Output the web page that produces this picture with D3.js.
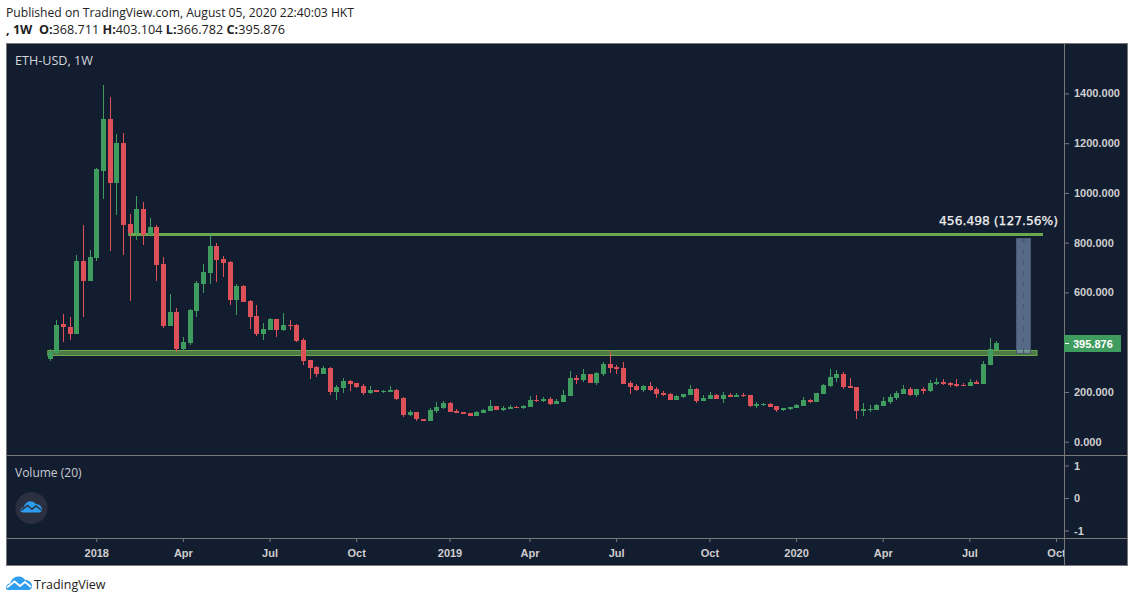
<!DOCTYPE html>
<html>
<head>
<meta charset="utf-8">
<script src="https://cdn.jsdelivr.net/npm/d3@7"></script>
<style>
  html, body { margin: 0; padding: 0; background: #fff; overflow: hidden; }
  svg { display: block; }
  text { font-family: "Liberation Sans", Arial, sans-serif; }
</style>
</head>
<body>
<div id="vis-container"></div>
<script>
const width = 1134,
    height = 602;

// weekly candles, one entry per week from the first date
const firstWeek = "2017-11-13";
const opens = [333,355,473,461,433,726,646,738,1088,1297,1040,1201,875,839,935,831,863,714,465,521,373,397,525,634,678,787,734,722,570,626,566,505,433,449,493,449,469,469,409,328,300,272,296,200,216,244,236,224,196,208,200,200,208,176,107,119,91,83,123,135,156,123,119,115,103,115,123,144,127,131,140,135,140,168,164,172,152,160,184,256,248,272,236,272,312,300,296,236,224,208,224,212,196,192,168,180,188,212,164,172,188,172,188,180,188,188,144,148,152,144,127,131,135,144,168,160,192,224,256,272,224,220,123,127,127,144,160,176,192,212,188,212,204,232,240,236,232,228,224,240,232,308,368.711];
const highs = [371,489,513,501,751,871,770,1100,1434,1386,1237,1241,915,988,964,899,871,742,594,537,421,533,646,714,835,799,746,726,634,630,570,550,477,497,493,517,489,473,417,328,304,304,300,228,256,248,236,232,224,208,208,224,212,180,127,119,91,135,160,164,160,131,119,115,123,131,168,144,144,148,144,148,184,188,180,180,172,208,284,268,292,272,280,320,365,308,320,244,232,228,240,220,204,196,188,192,228,216,188,200,192,200,196,196,196,188,160,156,156,144,135,140,152,180,172,196,232,292,288,280,256,220,156,148,152,180,192,204,228,220,212,220,248,256,252,240,252,236,252,248,324,417,403.104];
const lows = [326,353,401,409,433,501,646,726,976,767,911,751,566,811,791,831,646,457,465,361,365,389,501,598,634,642,662,550,509,562,453,425,409,449,421,445,449,401,308,252,260,272,188,168,196,204,216,188,192,200,196,200,168,99,103,83,83,83,115,131,119,115,111,103,103,115,123,127,123,131,135,131,140,160,160,148,152,160,184,232,240,236,228,264,276,272,232,192,204,200,204,176,184,168,168,176,188,156,164,172,172,156,180,180,180,140,135,144,140,119,123,127,135,144,156,160,192,220,240,212,216,91,103,119,127,144,152,168,192,184,180,192,200,228,228,220,220,224,224,232,232,308,366.782];
const closes = [361,469,461,433,726,646,742,1096,1297,1040,1201,871,839,935,831,863,710,465,521,373,401,529,638,682,787,730,718,570,626,562,501,433,453,493,449,469,465,405,324,296,272,296,200,220,244,232,220,196,208,200,204,208,172,107,119,91,83,127,140,156,119,115,111,103,119,127,144,127,135,140,135,144,168,164,172,152,164,188,256,248,272,236,276,312,296,292,232,220,208,224,208,192,188,168,184,192,212,164,176,188,172,188,180,188,184,144,152,152,140,127,135,140,148,168,160,196,228,260,272,220,216,123,131,131,148,164,180,196,212,188,212,204,236,240,232,228,224,224,240,232,312,373,395.876];

// drawn levels and the measure tool
const resistance = 835;
const supportTop = 368;
const supportBottom = 349;
const measureTop = 819;
const measureBottom = 358;
const measureLabel = "456.498 (127.56%)";

const priceTicks = [0,200,400,600,800,1000,1200,1400];
const volumeTicks = [-1,0,1];
const lastLabel = "395.876";
const timeTicks = [
  ["2018-01-01","2018"],["2018-04-02","Apr"],["2018-07-02","Jul"],["2018-10-01","Oct"],
  ["2019-01-07","2019"],["2019-04-01","Apr"],["2019-07-01","Jul"],["2019-10-07","Oct"],
  ["2020-01-06","2020"],["2020-04-06","Apr"],["2020-07-06","Jul"],["2020-10-05","Oct"]
];

const bg = "#131d30",
    frame = "#787878",
    axisText = "#cfcfcf",
    up = "#3f9c5f",
    down = "#de5159",
    lineGreen = "#6aa84f";

const panelLeft = 6, panelRight = 1127, panelTop = 43, panelBottom = 565,
    axisX = 1064, paneY = 455, timeY = 538;

const start = d3.isoParse(firstWeek + "T00:00:00Z");

const x = d3.scaleUtc()
    .domain([start, d3.utcWeek.offset(start, 151)])
    .range([50.3, 1056.7]);

const y = d3.scaleLinear()
    .domain([0, 1400])
    .range([441.7, 93.4]);

const yVol = d3.scaleLinear()
    .domain([-1, 1])
    .range([530.5, 465.5]);

var svg = d3.select("#vis-container").append("svg")
    .attr("width", width)
    .attr("height", height);

// header
svg.append("text").attr("x", 6).attr("y", 17)
    .attr("font-size", 12.5).attr("fill", "#222")
    .style("font-family", "'Open Sans'")
    .attr("textLength", 348).attr("lengthAdjust", "spacingAndGlyphs")
    .text("Published on TradingView.com, August 05, 2020 22:40:03 HKT");

var ohlc = svg.append("text").attr("x", 6).attr("y", 34)
    .attr("font-size", 12.65).attr("fill", "#222")
    .style("font-family", "'Open Sans'");
[[", 1W  O:", true], ["368.711 ", false], ["H:", true], ["403.104 ", false],
 ["L:", true], ["366.782 ", false], ["C:", true], ["395.876", false]].forEach(function(p) {
    ohlc.append("tspan").attr("font-weight", p[1] ? "bold" : "normal")
        .attr("xml:space", "preserve").text(p[0]);
});

// panel
svg.append("rect")
    .attr("x", panelLeft + 0.5).attr("y", panelTop + 0.5)
    .attr("width", panelRight - panelLeft).attr("height", panelBottom - panelTop)
    .attr("fill", bg).attr("stroke", frame);

[[panelLeft, paneY + 0.5, panelRight, paneY + 0.5],
 [panelLeft, timeY + 0.5, panelRight, timeY + 0.5],
 [axisX + 0.5, panelTop, axisX + 0.5, panelBottom]].forEach(function(l) {
    svg.append("line")
        .attr("x1", l[0]).attr("y1", l[1]).attr("x2", l[2]).attr("y2", l[3])
        .attr("stroke", frame);
});

// axes
function styleAxis(g) {
    g.select(".domain").remove();
    g.selectAll(".tick line").attr("stroke", frame);
    g.selectAll(".tick text")
        .attr("fill", axisText)
        .attr("font-size", 11)
        .attr("font-weight", "bold")
        .style("font-family", "'Liberation Sans'");
}

svg.append("g")
    .attr("transform", "translate(" + (axisX + 1) + ",0)")
    .call(d3.axisRight(y).tickValues(priceTicks).tickSize(4).tickPadding(5)
        .tickFormat(d3.format(".3f")))
    .call(styleAxis);

svg.append("g")
    .attr("transform", "translate(" + (axisX + 1) + ",0)")
    .call(d3.axisRight(yVol).tickValues(volumeTicks).tickSize(4).tickPadding(5)
        .tickFormat(function(d) { return String(d); }))
    .call(styleAxis);

svg.append("clipPath").attr("id", "time-clip")
  .append("rect").attr("x", panelLeft).attr("y", timeY)
    .attr("width", axisX - panelLeft).attr("height", panelBottom - timeY);

svg.append("g")
    .attr("clip-path", "url(#time-clip)")
  .append("g")
    .attr("transform", "translate(-0.7," + (timeY + 1) + ")")
    .call(d3.axisBottom(x)
        .tickValues(timeTicks.map(function(t) { return d3.isoParse(t[0] + "T00:00:00Z"); }))
        .tickSize(3).tickPadding(7)
        .tickFormat(function(d, i) { return timeTicks[i][1]; }))
    .call(styleAxis);

var candles = d3.range(opens.length).map(function(i) {
    return {
        date: d3.utcWeek.offset(start, i),
        o: opens[i], h: highs[i], l: lows[i], c: closes[i]
    };
});

// support band, under the candles
svg.append("rect")
    .attr("x", x(start) - 2.5).attr("y", Math.round(y(supportTop)) + 0.5)
    .attr("width", 1037 - x(start) + 2.5)
    .attr("height", Math.round(y(supportBottom)) - Math.round(y(supportTop)))
    .attr("fill", lineGreen).attr("fill-opacity", 0.68)
    .attr("stroke", lineGreen);

// resistance line
svg.append("rect")
    .attr("x", x(candles[12].date) - 2)
    .attr("y", Math.round(y(resistance)) - 1)
    .attr("width", 1043 - x(candles[12].date) + 2)
    .attr("height", 3)
    .attr("fill", lineGreen);

var g = svg.append("g");

g.selectAll("rect.wick")
    .data(candles)
    .enter().append("rect")
    .attr("class", "wick")
    .attr("x", function(d) { return Math.floor(x(d.date)); })
    .attr("y", function(d) { return Math.round(y(d.h)); })
    .attr("width", 1)
    .attr("height", function(d) { return Math.max(1, Math.round(y(d.l)) - Math.round(y(d.h))); })
    .attr("fill", function(d) { return d.c >= d.o ? up : down; });

g.selectAll("rect.body")
    .data(candles)
    .enter().append("rect")
    .attr("class", "body")
    .attr("x", function(d) { return Math.floor(x(d.date)) - 2; })
    .attr("y", function(d) { return Math.round(y(Math.max(d.o, d.c))); })
    .attr("width", 5)
    .attr("height", function(d) { return Math.max(1, Math.round(y(Math.min(d.o, d.c))) - Math.round(y(Math.max(d.o, d.c)))); })
    .attr("fill", function(d) { return d.c >= d.o ? up : down; });

// measure tool
var mx0 = Math.floor(x(d3.utcWeek.offset(start, 145))),
    mx1 = mx0 + 14,
    mTop = Math.round(y(measureTop)),
    mBottom = Math.round(y(measureBottom));
svg.append("rect")
    .attr("x", mx0 + 0.5).attr("y", mTop + 0.5)
    .attr("width", mx1 - mx0).attr("height", mBottom - mTop)
    .attr("fill", "#7f99bd").attr("fill-opacity", 0.62)
    .attr("stroke", "#4a586f");
svg.append("line")
    .attr("x1", mx0 + 7.5).attr("x2", mx0 + 7.5)
    .attr("y1", mTop).attr("y2", mBottom)
    .attr("stroke", "#4a586f").attr("stroke-dasharray", "5,6");
svg.append("path")
    .attr("d", "M" + (mx0 + 4) + "," + (mTop + 4.5) + "l3.5,-3.5l3.5,3.5")
    .attr("fill", "none").attr("stroke", "#4a586f");

svg.append("text")
    .attr("x", 939).attr("y", 225)
    .attr("font-size", 12.3).attr("fill", "#f0f0f0")
    .attr("stroke", "#f0f0f0").attr("stroke-width", 0.25)
    .style("font-family", "'DejaVu Sans'")
    .text(measureLabel);

// last price tag
var lastY = Math.round(y(closes[closes.length - 1]));
svg.append("rect")
    .attr("x", axisX).attr("y", lastY - 8).attr("width", 57).attr("height", 17)
    .attr("fill", up);
svg.append("line")
    .attr("x1", axisX + 1).attr("x2", axisX + 5)
    .attr("y1", lastY + 0.5).attr("y2", lastY + 0.5)
    .attr("stroke", "#fff");
svg.append("text")
    .attr("x", axisX + 9).attr("y", lastY + 4.5)
    .attr("font-size", 11).attr("font-weight", "bold").attr("fill", "#fff")
    .text(lastLabel);

// pane titles
svg.append("text").attr("x", 15).attr("y", 65)
    .attr("font-size", 12.6).attr("fill", "#d4d6da")
    .style("font-family", "'Open Sans'")
    .text("ETH-USD, 1W");
svg.append("text").attr("x", 15).attr("y", 477)
    .attr("font-size", 12).attr("fill", "#c8cad0")
    .style("font-family", "'Open Sans'")
    .text("Volume (20)");

// tradingview cloud logo
function cloud(sel, tx, ty, k, fill, line) {
    var c = sel.append("g").attr("transform", "translate(" + tx + "," + ty + ") scale(" + k + ")");
    c.append("path")
        .attr("d", "M0,12 C0,9 2,7.5 4,7.5 C5,3.5 9,0 13,0.5 C16,0.5 18,2.5 19,4 C22,3.5 26,6 26,10 C26,12.5 24.5,14 22,14 L3,14 C1,14 0,13.5 0,12 Z")
        .attr("fill", fill);
    c.append("path")
        .attr("d", "M1,11.5 L8.5,5.5 L14,10 L19,6 L25,11")
        .attr("fill", "none").attr("stroke", line).attr("stroke-width", 1.8);
}

svg.append("circle").attr("cx", 31.5).attr("cy", 508).attr("r", 16).attr("fill", "#2a3040");
cloud(svg, 20.5, 501, 0.82, "#2e9df0", "#2a3040");
cloud(svg, 6, 576, 1, "#2e9df0", "#fff");

svg.append("text").attr("x", 34).attr("y", 589)
    .attr("font-size", 12.5).attr("fill", "#222")
    .style("font-family", "'Open Sans'")
    .text("TradingView");
</script>
</body>
</html>
